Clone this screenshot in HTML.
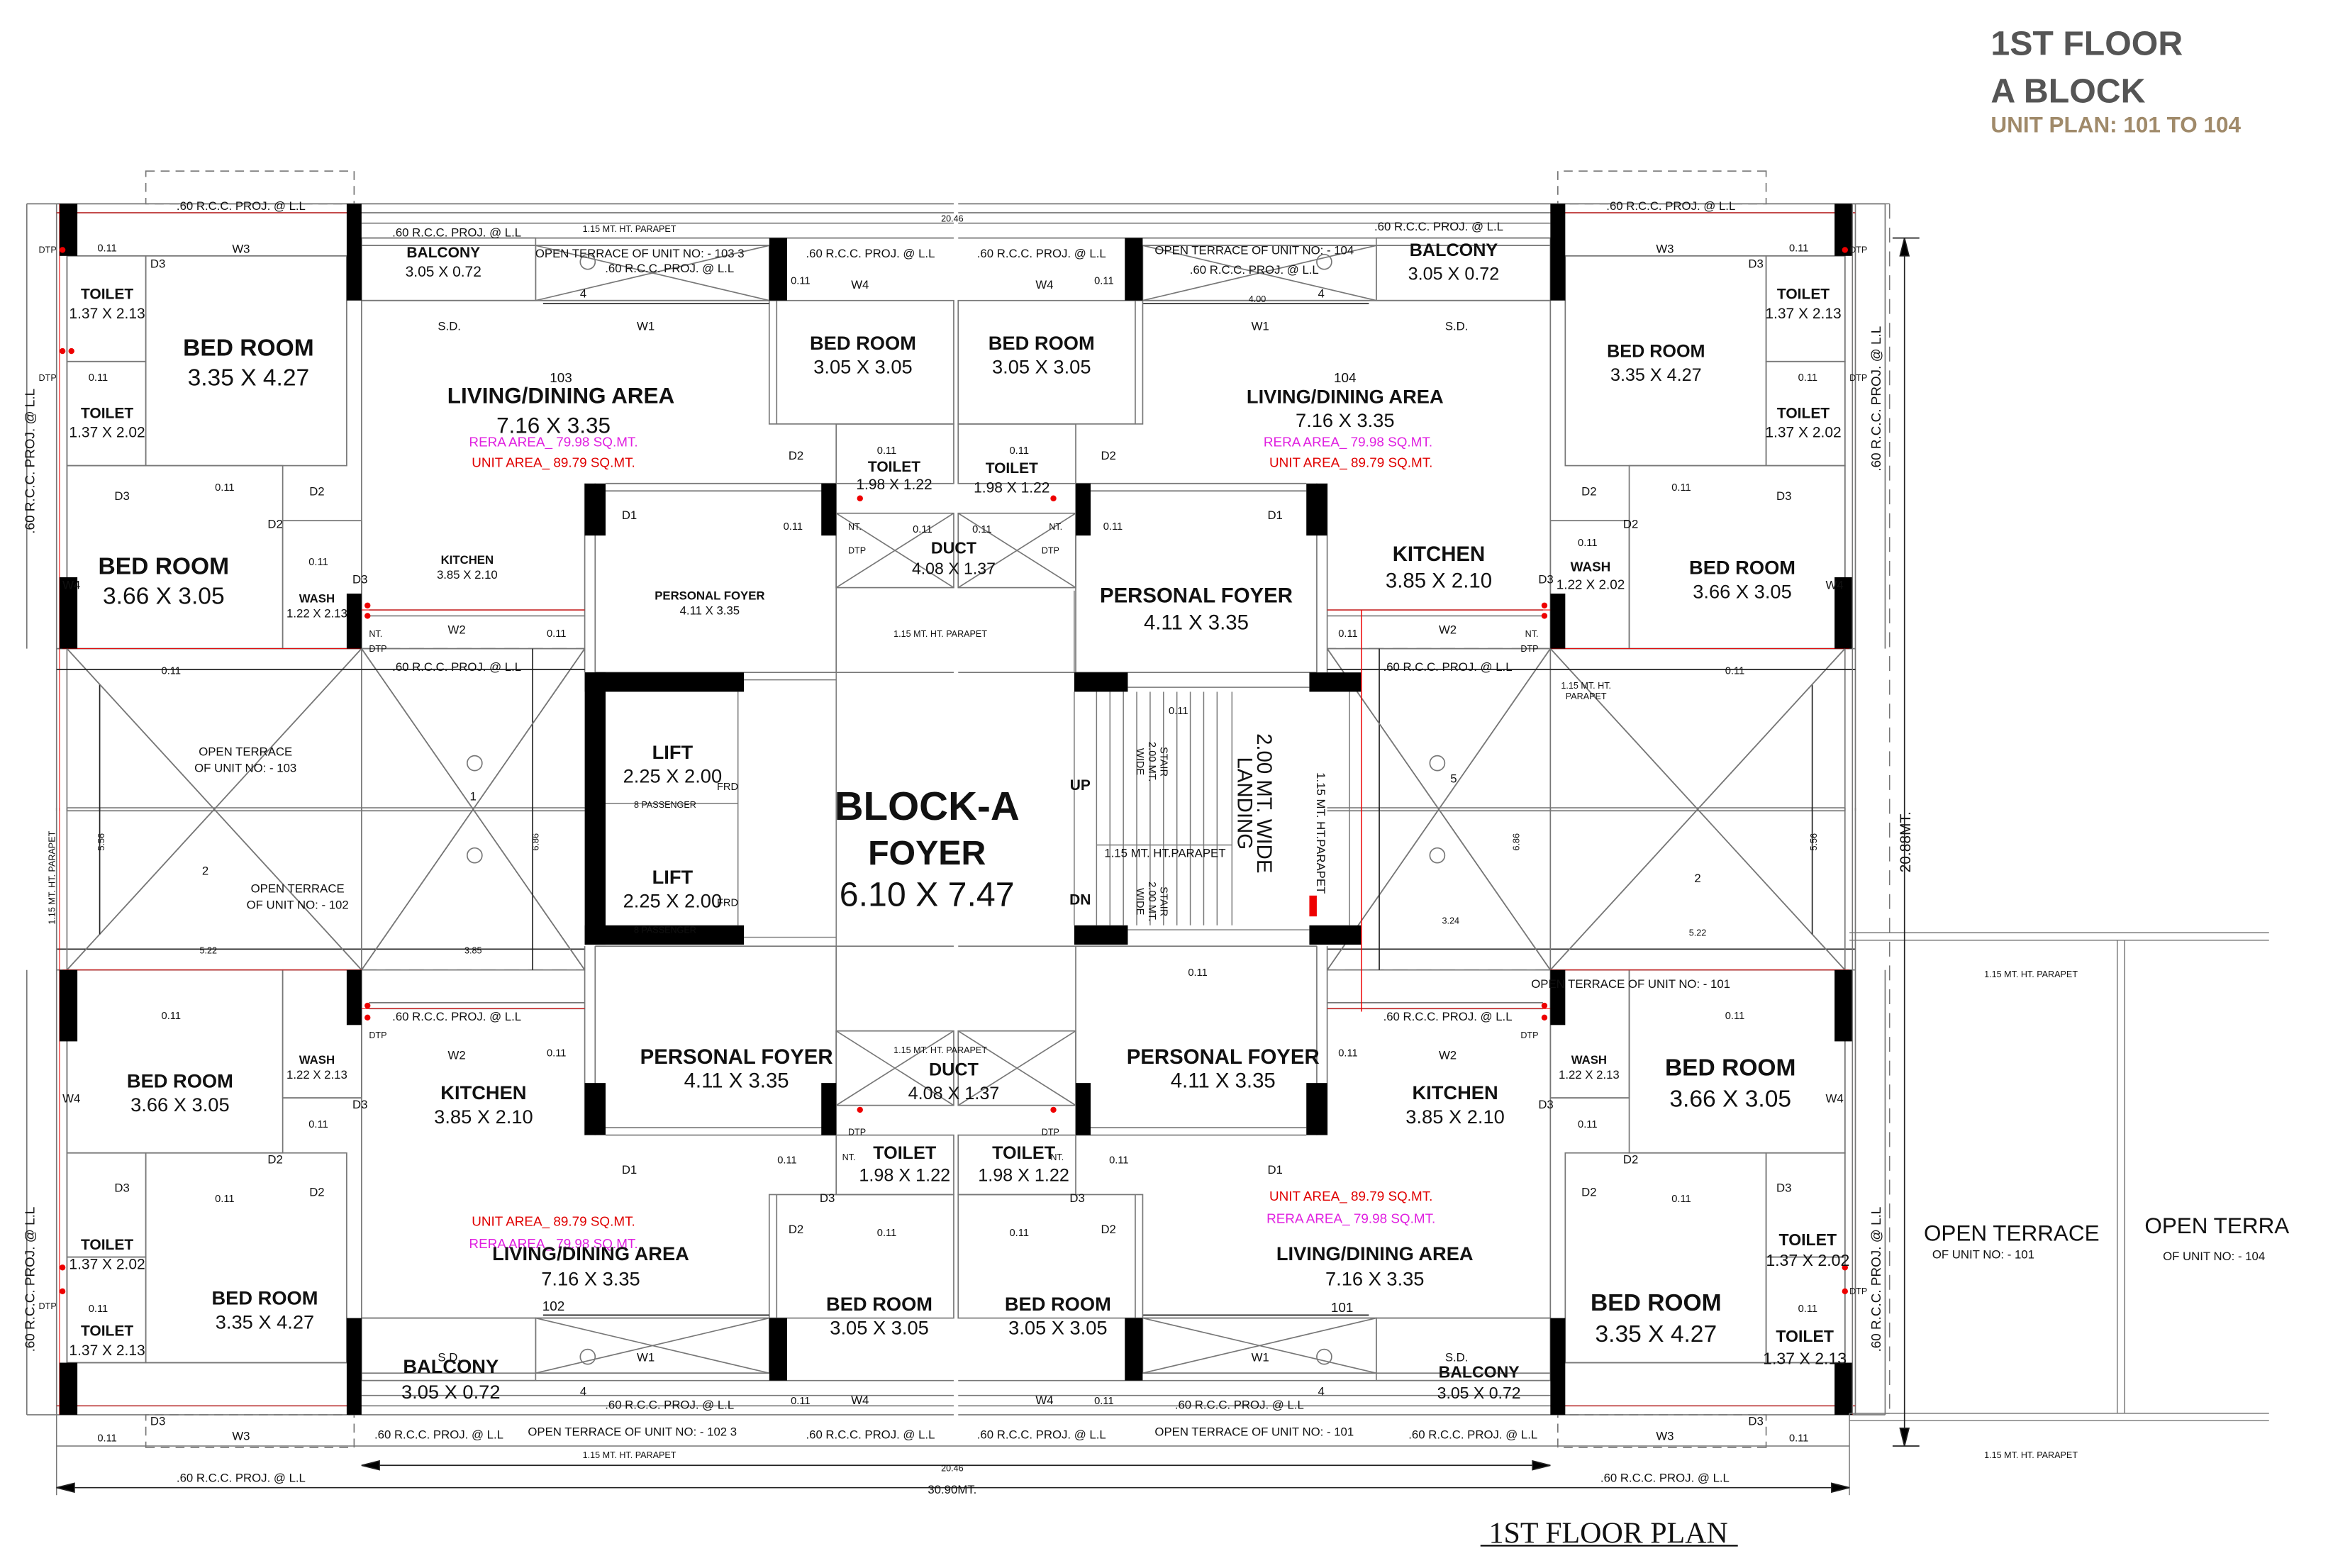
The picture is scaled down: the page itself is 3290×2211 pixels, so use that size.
<!DOCTYPE html>
<html><head><meta charset="utf-8"><style>
html,body{margin:0;padding:0;background:#fff;}
svg{display:block;}
text{font-family:"Liberation Sans Narrow","Liberation Sans",sans-serif;fill:#111;}
.b{font-weight:bold;}
.m{text-anchor:middle;}
.s{font-size:7px;}
.r{fill:#e00000;}
.g{fill:#e020e0;}
</style></head><body>
<svg width="3290" height="2211" viewBox="0 0 1568 1054" preserveAspectRatio="none" xmlns="http://www.w3.org/2000/svg">
<defs>
<g id="q" fill="none" stroke="#777" stroke-width="0.8">
  <rect x="98" y="115" width="140" height="22" stroke-dasharray="6,4"/>
  <line x1="18" y1="137" x2="641" y2="137"/>
  <line x1="38" y1="143" x2="641" y2="143"/>
  <line x1="243" y1="150" x2="641" y2="150"/>
  <line x1="243" y1="160" x2="641" y2="160"/>
  <line x1="243" y1="165" x2="517" y2="165"/>
  <line x1="18" y1="137" x2="18" y2="436"/>
  <line x1="38" y1="137" x2="38" y2="545"/>
  <line x1="45" y1="172" x2="45" y2="545"/>
  <rect x="243" y="160" width="117" height="42"/>
  <rect x="360" y="165" width="157" height="37"/>
  <line x1="360" y1="165" x2="517" y2="202"/><line x1="360" y1="202" x2="517" y2="165"/>
  <line x1="243" y1="202" x2="517" y2="202"/>
  <rect x="45" y="172" width="53" height="71"/>
  <rect x="45" y="243" width="53" height="70"/>
  <rect x="98" y="172" width="135" height="141"/>
  <line x1="45" y1="172" x2="233" y2="172"/>
  <rect x="45" y="313" width="145" height="123"/>
  <rect x="190" y="350" width="53" height="86"/>
  <line x1="190" y1="350" x2="243" y2="350"/>
  <line x1="243" y1="202" x2="243" y2="436"/>
  <line x1="248" y1="410" x2="393" y2="410"/>
  <line x1="248" y1="414" x2="393" y2="414"/>
  <line x1="393" y1="325" x2="393" y2="452"/>
  <line x1="400" y1="325" x2="400" y2="452"/>
  <rect x="517" y="202" width="124" height="83"/>
  <line x1="522" y1="202" x2="522" y2="285"/>
  <rect x="562" y="285" width="79" height="40"/>
  <line x1="407" y1="325" x2="562" y2="325"/>
  <line x1="407" y1="330" x2="562" y2="330"/>
  <rect x="562" y="345" width="79" height="50"/>
  <line x1="562" y1="345" x2="641" y2="395"/><line x1="562" y1="395" x2="641" y2="345"/>
  <line x1="562" y1="325" x2="562" y2="452"/>
  <line x1="38" y1="436" x2="393" y2="436"/>
  <line x1="243" y1="436" x2="393" y2="436" stroke-dasharray="10,6"/>
  <line x1="400" y1="452" x2="641" y2="452"/>
  <line x1="45" y1="436" x2="243" y2="652"/>
  <line x1="243" y1="436" x2="45" y2="652"/>
  <line x1="243" y1="436" x2="393" y2="652"/>
  <line x1="393" y1="436" x2="243" y2="652"/>
  <line x1="243" y1="436" x2="243" y2="545"/>
  <line x1="45" y1="543" x2="393" y2="543"/>
  <circle cx="319" cy="513" r="5"/>
  <circle cx="395" cy="176" r="5"/>
  <line x1="67" y1="460" x2="67" y2="545" stroke="#222"/>
  <line x1="358" y1="436" x2="358" y2="545" stroke="#222"/>
  <line x1="38" y1="638" x2="243" y2="638" stroke="#222"/>
  <line x1="243" y1="638" x2="393" y2="638" stroke="#222"/>
  <line x1="768" y1="204" x2="920" y2="204" stroke="#222"/>
  <line x1="38" y1="143" x2="243" y2="143" stroke="#e00" stroke-width="0.5"/>
  <line x1="243" y1="410" x2="393" y2="410" stroke="#e00" stroke-width="0.5"/>
  <line x1="42" y1="436" x2="243" y2="436" stroke="#e00" stroke-width="0.5"/>
  <line x1="40" y1="137" x2="40" y2="545" stroke="#e00" stroke-width="0.5"/>
</g>
<g id="p" fill="#000">
  <rect x="40" y="137" width="12" height="35"/>
  <rect x="40" y="388" width="12" height="48"/>
  <rect x="233" y="137" width="10" height="65"/>
  <rect x="233" y="399" width="10" height="37"/>
  <rect x="517" y="160" width="12" height="42"/>
  <rect x="393" y="325" width="14" height="35"/>
  <rect x="552" y="325" width="10" height="35"/>
</g>
</defs>
<rect width="1568" height="1054" fill="#fff"/>
<use href="#q"/>
<use href="#q" transform="translate(1285,0) scale(-1,1)"/>
<use href="#q" transform="translate(0,1088) scale(1,-1)"/>
<use href="#q" transform="translate(1285,1088) scale(-1,-1)"/>
<use href="#p"/>
<use href="#p" transform="translate(1285,0) scale(-1,1)"/>
<use href="#p" transform="translate(0,1088) scale(1,-1)"/>
<use href="#p" transform="translate(1285,1088) scale(-1,-1)"/>

<g fill="#000">
  <rect x="393" y="452" width="107" height="13"/>
  <rect x="393" y="452" width="14" height="183"/>
  <rect x="393" y="622" width="107" height="13"/>
  <rect x="722" y="452" width="36" height="13"/>
  <rect x="880" y="452" width="35" height="13"/>
  <rect x="722" y="622" width="36" height="13"/>
  <rect x="880" y="622" width="35" height="13"/>
</g>
<g fill="none" stroke="#777" stroke-width="0.7">
  <line x1="407" y1="540" x2="496" y2="540"/>
  <line x1="496" y1="465" x2="496" y2="622"/>
  <line x1="500" y1="457" x2="562" y2="457"/><line x1="500" y1="630" x2="562" y2="630"/>
  <line x1="758" y1="462" x2="880" y2="462"/><line x1="758" y1="625" x2="880" y2="625"/>
  <line x1="737" y1="465" x2="737" y2="622"/><line x1="746" y1="465" x2="746" y2="622"/>
  <line x1="755" y1="465" x2="755" y2="622"/><line x1="764" y1="465" x2="764" y2="622"/>
  <line x1="773" y1="465" x2="773" y2="622"/><line x1="782" y1="465" x2="782" y2="622"/>
  <line x1="791" y1="465" x2="791" y2="622"/><line x1="800" y1="465" x2="800" y2="622"/>
  <line x1="809" y1="465" x2="809" y2="622"/><line x1="818" y1="465" x2="818" y2="622"/>
  <line x1="828" y1="465" x2="828" y2="622"/>
  <line x1="737" y1="568" x2="828" y2="568"/>
  <line x1="907" y1="465" x2="907" y2="622"/>
  <line x1="915" y1="410" x2="915" y2="680" stroke="#e00"/>
  <line x1="562" y1="452" x2="562" y2="690"/><line x1="722" y1="465" x2="722" y2="622"/>
  <line x1="722" y1="397" x2="722" y2="452"/>
  <line x1="1243" y1="627" x2="1525" y2="627"/><line x1="1243" y1="632" x2="1525" y2="632"/>
  <line x1="1243" y1="950" x2="1525" y2="950"/><line x1="1243" y1="955" x2="1525" y2="955"/>
  <line x1="1423" y1="632" x2="1423" y2="950"/><line x1="1428" y1="632" x2="1428" y2="950"/>
  <line x1="1245" y1="137" x2="1245" y2="950"/>
  <line x1="1270" y1="137" x2="1270" y2="950" stroke-dasharray="10,6"/>
  <line x1="1245" y1="137" x2="1270" y2="137"/><line x1="1245" y1="950" x2="1270" y2="950"/>
  <line x1="38" y1="972" x2="1243" y2="972"/>
  <line x1="38" y1="950" x2="38" y2="1005"/><line x1="1243" y1="950" x2="1243" y2="1005"/>
</g>
<g stroke="#222" stroke-width="0.8" fill="#000">
  <line x1="38" y1="1000" x2="1243" y2="1000"/>
  <polygon points="38,1000 50,997 50,1003"/><polygon points="1243,1000 1231,997 1231,1003"/>
  <line x1="243" y1="985" x2="1042" y2="985"/>
  <polygon points="243,985 255,982 255,988"/><polygon points="1042,985 1030,982 1030,988"/>
  <line x1="1280" y1="160" x2="1280" y2="972"/>
  <polygon points="1280,160 1277,172 1283,172"/><polygon points="1280,972 1277,960 1283,960"/>
  <line x1="1272" y1="160" x2="1290" y2="160"/><line x1="1272" y1="972" x2="1290" y2="972"/>
</g>

<text x="1338" y="37" style="font-family:'Liberation Sans',sans-serif;font-size:23px;font-weight:bold;fill:#555">1ST FLOOR</text>
<text x="1338" y="69" style="font-family:'Liberation Sans',sans-serif;font-size:23px;font-weight:bold;fill:#555">A BLOCK</text>
<text x="1338" y="89" style="font-family:'Liberation Sans',sans-serif;font-size:15px;font-weight:bold;fill:#a08a6a">UNIT PLAN: 101 TO 104</text>
<text x="1081" y="1037" class="m" style="font-family:'Liberation Serif',serif;font-size:20px;">1ST FLOOR PLAN</text>
<line x1="995" y1="1039" x2="1168" y2="1039" stroke="#000" stroke-width="1"/>

<g font-size="8">
<text x="162" y="141" class="m">.60 R.C.C. PROJ. @ L.L</text>
<text x="307" y="159" class="m">.60 R.C.C. PROJ. @ L.L</text>
<text x="423" y="156" class="m" font-size="6">1.15 MT. HT. PARAPET</text>
<text x="640" y="149" class="m" font-size="6">20.46</text>
<text x="585" y="173" class="m">.60 R.C.C. PROJ. @ L.L</text>
<text x="700" y="173" class="m">.60 R.C.C. PROJ. @ L.L</text>
<text x="430" y="173" class="m">OPEN TERRACE OF UNIT NO: - 103   3</text>
<text x="450" y="183" class="m">.60 R.C.C. PROJ. @ L.L</text>
<text x="843" y="171" class="m">OPEN TERRACE OF UNIT NO: - 104</text>
<text x="843" y="184" class="m">.60 R.C.C. PROJ. @ L.L</text>
<text x="967" y="155" class="m">.60 R.C.C. PROJ. @ L.L</text>
<text x="1123" y="141" class="m">.60 R.C.C. PROJ. @ L.L</text>
<text x="392" y="200" class="m">4</text><text x="888" y="200" class="m">4</text>
<text x="845" y="203" class="m" font-size="6">4.00</text>
<text x="162" y="170" class="m">W3</text><text x="1119" y="170" class="m">W3</text>
<text x="578" y="194" class="m">W4</text><text x="702" y="194" class="m">W4</text>
<text x="302" y="222" class="m">S.D.</text><text x="434" y="222" class="m">W1</text>
<text x="847" y="222" class="m">W1</text><text x="979" y="222" class="m">S.D.</text>
<text x="101" y="180">D3</text><text x="1175" y="180">D3</text>
<text x="535" y="309" class="m">D2</text><text x="745" y="309" class="m">D2</text>
<text x="82" y="336" class="m">D3</text><text x="213" y="333" class="m">D2</text>
<text x="185" y="355" class="m">D2</text><text x="242" y="392" class="m">D3</text>
<text x="423" y="349" class="m">D1</text><text x="857" y="349" class="m">D1</text>
<text x="1068" y="333" class="m">D2</text><text x="1199" y="336" class="m">D3</text>
<text x="1096" y="355" class="m">D2</text><text x="1039" y="392" class="m">D3</text>
<text x="307" y="426" class="m">W2</text><text x="973" y="426" class="m">W2</text>
<text x="48" y="396" class="m">W4</text><text x="1233" y="396" class="m">W4</text>
<text x="307" y="712" class="m">W2</text><text x="973" y="712" class="m">W2</text>
<text x="48" y="741" class="m">W4</text><text x="1233" y="741" class="m">W4</text>
<text x="423" y="789" class="m">D1</text><text x="857" y="789" class="m">D1</text>
<text x="185" y="782" class="m">D2</text><text x="242" y="745" class="m">D3</text>
<text x="82" y="801" class="m">D3</text><text x="213" y="804" class="m">D2</text>
<text x="1096" y="782" class="m">D2</text><text x="1039" y="745" class="m">D3</text>
<text x="1068" y="804" class="m">D2</text><text x="1199" y="801" class="m">D3</text>
<text x="556" y="808" class="m">D3</text><text x="724" y="808" class="m">D3</text>
<text x="535" y="829" class="m">D2</text><text x="745" y="829" class="m">D2</text>
<text x="101" y="958">D3</text><text x="1175" y="958">D3</text>
<text x="162" y="968" class="m">W3</text><text x="1119" y="968" class="m">W3</text>
<text x="578" y="944" class="m">W4</text><text x="702" y="944" class="m">W4</text>
<text x="434" y="915" class="m">W1</text><text x="847" y="915" class="m">W1</text>
<text x="302" y="915" class="m">S.D.</text><text x="979" y="915" class="m">S.D.</text>
<text x="450" y="947" class="m">.60 R.C.C. PROJ. @ L.L</text>
<text x="833" y="947" class="m">.60 R.C.C. PROJ. @ L.L</text>
<text x="425" y="965" class="m">OPEN TERRACE OF UNIT NO: - 102   3</text>
<text x="843" y="965" class="m">OPEN TERRACE OF UNIT NO: - 101</text>
<text x="295" y="967" class="m">.60 R.C.C. PROJ. @ L.L</text>
<text x="585" y="967" class="m">.60 R.C.C. PROJ. @ L.L</text>
<text x="700" y="967" class="m">.60 R.C.C. PROJ. @ L.L</text>
<text x="990" y="967" class="m">.60 R.C.C. PROJ. @ L.L</text>
<text x="392" y="938" class="m">4</text><text x="888" y="938" class="m">4</text>
<text x="162" y="996" class="m">.60 R.C.C. PROJ. @ L.L</text>
<text x="1119" y="996" class="m">.60 R.C.C. PROJ. @ L.L</text>
<text x="640" y="1004" class="m">30.90MT.</text>
<text x="640" y="989" class="m" font-size="6">20.46</text>
<text x="423" y="980" class="m" font-size="6">1.15 MT. HT. PARAPET</text>
<text x="307" y="451" class="m">.60 R.C.C. PROJ. @ L.L</text>
<text x="973" y="451" class="m">.60 R.C.C. PROJ. @ L.L</text>
<text x="307" y="686" class="m">.60 R.C.C. PROJ. @ L.L</text>
<text x="973" y="686" class="m">.60 R.C.C. PROJ. @ L.L</text>
<text x="1096" y="664" class="m">OPEN TERRACE OF UNIT NO: - 101</text>
<text x="632" y="428" class="m" font-size="6">1.15 MT. HT. PARAPET</text>
<text x="632" y="708" class="m" font-size="6">1.15 MT. HT. PARAPET</text>
<text x="1365" y="657" class="m" font-size="6">1.15 MT. HT. PARAPET</text>
<text x="1365" y="980" class="m" font-size="6">1.15 MT. HT. PARAPET</text>
<text x="1066" y="463" class="m" font-size="6">1.15 MT. HT.</text>
<text x="1066" y="470" class="m" font-size="6">PARAPET</text>
<text x="140" y="641" class="m" font-size="6">5.22</text>
<text x="318" y="641" class="m" font-size="6">3.85</text>
<text x="975" y="621" class="m" font-size="6">3.24</text>
<text x="1141" y="629" class="m" font-size="6">5.22</text>
<text x="138" y="588" class="m">2</text><text x="318" y="538" class="m">1</text>
<text x="977" y="526" class="m">5</text><text x="1141" y="593" class="m">2</text>
</g>
<g font-size="6" class="s">
<text x="72" y="169" class="m">0.11</text><text x="1209" y="169" class="m">0.11</text>
<text x="66" y="256" class="m">0.11</text><text x="1215" y="256" class="m">0.11</text>
<text x="151" y="330" class="m">0.11</text><text x="1130" y="330" class="m">0.11</text>
<text x="214" y="380" class="m">0.11</text><text x="1067" y="367" class="m">0.11</text>
<text x="115" y="453" class="m">0.11</text><text x="1166" y="453" class="m">0.11</text>
<text x="115" y="685" class="m">0.11</text><text x="1166" y="685" class="m">0.11</text>
<text x="214" y="758" class="m">0.11</text><text x="1067" y="758" class="m">0.11</text>
<text x="151" y="808" class="m">0.11</text><text x="1130" y="808" class="m">0.11</text>
<text x="66" y="882" class="m">0.11</text><text x="1215" y="882" class="m">0.11</text>
<text x="72" y="969" class="m">0.11</text><text x="1209" y="969" class="m">0.11</text>
<text x="533" y="356" class="m">0.11</text><text x="748" y="356" class="m">0.11</text>
<text x="620" y="358" class="m">0.11</text><text x="660" y="358" class="m">0.11</text>
<text x="596" y="305" class="m">0.11</text><text x="685" y="305" class="m">0.11</text>
<text x="374" y="428" class="m">0.11</text><text x="906" y="428" class="m">0.11</text>
<text x="792" y="480" class="m">0.11</text><text x="805" y="656" class="m">0.11</text>
<text x="374" y="710" class="m">0.11</text><text x="906" y="710" class="m">0.11</text>
<text x="529" y="782" class="m">0.11</text><text x="752" y="782" class="m">0.11</text>
<text x="596" y="831" class="m">0.11</text><text x="685" y="831" class="m">0.11</text>
<text x="538" y="191" class="m">0.11</text><text x="742" y="191" class="m">0.11</text>
<text x="538" y="944" class="m">0.11</text><text x="742" y="944" class="m">0.11</text>
</g>
<g font-size="6" class="r">
<text x="26" y="170">DTP</text><text x="1243" y="170">DTP</text>
<text x="26" y="256">DTP</text><text x="1243" y="256">DTP</text>
<text x="570" y="356">NT.</text><text x="705" y="356">NT.</text>
<text x="570" y="372">DTP</text><text x="700" y="372">DTP</text>
<text x="248" y="428">NT.</text><text x="1025" y="428">NT.</text>
<text x="248" y="438">DTP</text><text x="1022" y="438">DTP</text>
<text x="248" y="698">DTP</text><text x="1022" y="698">DTP</text>
<text x="570" y="763">DTP</text><text x="700" y="763">DTP</text>
<text x="566" y="780">NT.</text><text x="706" y="780">NT.</text>
<text x="26" y="880">DTP</text><text x="1243" y="870">DTP</text>
</g>
<g fill="#e00">
<circle cx="42" cy="168" r="2"/><circle cx="1240" cy="168" r="2"/>
<circle cx="42" cy="236" r="2"/><circle cx="48" cy="236" r="2"/>
<circle cx="247" cy="407" r="2"/><circle cx="247" cy="414" r="2"/>
<circle cx="1038" cy="407" r="2"/><circle cx="1038" cy="414" r="2"/>
<circle cx="247" cy="676" r="2"/><circle cx="247" cy="684" r="2"/>
<circle cx="1038" cy="676" r="2"/><circle cx="1038" cy="684" r="2"/>
<circle cx="42" cy="852" r="2"/><circle cx="42" cy="868" r="2"/>
<circle cx="1240" cy="852" r="2"/><circle cx="1240" cy="868" r="2"/>
<circle cx="578" cy="335" r="2"/><circle cx="708" cy="335" r="2"/>
<circle cx="578" cy="746" r="2"/><circle cx="708" cy="746" r="2"/>
<rect x="880" y="602" width="5" height="14"/>
</g>

<g class="m">
<text x="72" y="201" class="b" font-size="10">TOILET</text><text x="72" y="214" font-size="10">1.37 X 2.13</text>
<text x="72" y="281" class="b" font-size="10">TOILET</text><text x="72" y="294" font-size="10">1.37 X 2.02</text>
<text x="167" y="239" class="b" font-size="16">BED ROOM</text><text x="167" y="259" font-size="16">3.35 X 4.27</text>
<text x="110" y="386" class="b" font-size="16">BED ROOM</text><text x="110" y="406" font-size="16">3.66 X 3.05</text>
<text x="298" y="173" class="b" font-size="10">BALCONY</text><text x="298" y="186" font-size="10">3.05 X 0.72</text>
<text x="377" y="257" font-size="9">103</text>
<text x="377" y="271" class="b" font-size="15">LIVING/DINING AREA</text><text x="372" y="291" font-size="15">7.16 X 3.35</text>
<text x="372" y="300" class="g" font-size="9">RERA AREA_ 79.98 SQ.MT.</text>
<text x="372" y="314" class="r" font-size="9">UNIT AREA_ 89.79 SQ.MT.</text>
<text x="580" y="235" class="b" font-size="13">BED ROOM</text><text x="580" y="251" font-size="13">3.05 X 3.05</text>
<text x="700" y="235" class="b" font-size="13">BED ROOM</text><text x="700" y="251" font-size="13">3.05 X 3.05</text>
<text x="601" y="317" class="b" font-size="10">TOILET</text><text x="601" y="329" font-size="10">1.98 X 1.22</text>
<text x="680" y="318" class="b" font-size="10">TOILET</text><text x="680" y="331" font-size="10">1.98 X 1.22</text>
<text x="641" y="372" class="b" font-size="11">DUCT</text><text x="641" y="386" font-size="11">4.08 X 1.37</text>
<text x="314" y="379" class="b" font-size="8">KITCHEN</text><text x="314" y="389" font-size="8">3.85 X 2.10</text>
<text x="213" y="405" class="b" font-size="8">WASH</text><text x="213" y="415" font-size="8">1.22 X 2.13</text>
<text x="477" y="403" class="b" font-size="8">PERSONAL FOYER</text><text x="477" y="413" font-size="8">4.11 X 3.35</text>
<text x="165" y="508" font-size="8">OPEN TERRACE</text><text x="165" y="519" font-size="8">OF UNIT NO: - 103</text>
<text x="200" y="600" font-size="8">OPEN TERRACE</text><text x="200" y="611" font-size="8">OF UNIT NO: - 102</text>
<text x="904" y="257" font-size="9">104</text>
<text x="904" y="271" class="b" font-size="13">LIVING/DINING AREA</text><text x="904" y="287" font-size="13">7.16 X 3.35</text>
<text x="906" y="300" class="g" font-size="9">RERA AREA_ 79.98 SQ.MT.</text>
<text x="908" y="314" class="r" font-size="9">UNIT AREA_ 89.79 SQ.MT.</text>
<text x="967" y="377" class="b" font-size="14">KITCHEN</text><text x="967" y="395" font-size="14">3.85 X 2.10</text>
<text x="804" y="405" class="b" font-size="14">PERSONAL FOYER</text><text x="804" y="423" font-size="14">4.11 X 3.35</text>
<text x="1113" y="240" class="b" font-size="12">BED ROOM</text><text x="1113" y="256" font-size="12">3.35 X 4.27</text>
<text x="1212" y="201" class="b" font-size="10">TOILET</text><text x="1212" y="214" font-size="10">1.37 X 2.13</text>
<text x="1212" y="281" class="b" font-size="10">TOILET</text><text x="1212" y="294" font-size="10">1.37 X 2.02</text>
<text x="1171" y="386" class="b" font-size="13">BED ROOM</text><text x="1171" y="402" font-size="13">3.66 X 3.05</text>
<text x="1069" y="384" class="b" font-size="9">WASH</text><text x="1069" y="396" font-size="9">1.22 X 2.02</text>
<text x="977" y="172" class="b" font-size="12">BALCONY</text><text x="977" y="188" font-size="12">3.05 X 0.72</text>

<text x="452" y="510" class="b" font-size="13">LIFT</text><text x="452" y="526" font-size="13">2.25 X 2.00</text>
<text x="447" y="543" font-size="6">8 PASSENGER</text>
<text x="452" y="594" class="b" font-size="13">LIFT</text><text x="452" y="610" font-size="13">2.25 X 2.00</text>
<text x="447" y="627" font-size="6">8 PASSENGER</text>
<text x="489" y="531" font-size="7">FRD</text><text x="489" y="609" font-size="7">FRD</text>
<text x="623" y="551" class="b" font-size="27">BLOCK-A</text>
<text x="623" y="581" class="b" font-size="23">FOYER</text>
<text x="623" y="609" font-size="23">6.10 X 7.47</text>
<text x="726" y="531" class="b" font-size="10">UP</text>
<text x="726" y="608" class="b" font-size="10">DN</text>
<text x="783" y="576" font-size="8">1.15 MT. HT.PARAPET</text>

<text x="495" y="715" class="b" font-size="14">PERSONAL FOYER</text><text x="495" y="731" font-size="14">4.11 X 3.35</text>
<text x="641" y="723" class="b" font-size="12">DUCT</text><text x="641" y="739" font-size="12">4.08 X 1.37</text>
<text x="822" y="715" class="b" font-size="14">PERSONAL FOYER</text><text x="822" y="731" font-size="14">4.11 X 3.35</text>
<text x="608" y="779" class="b" font-size="12">TOILET</text><text x="608" y="794" font-size="12">1.98 X 1.22</text>
<text x="688" y="779" class="b" font-size="12">TOILET</text><text x="688" y="794" font-size="12">1.98 X 1.22</text>
<text x="121" y="731" class="b" font-size="13">BED ROOM</text><text x="121" y="747" font-size="13">3.66 X 3.05</text>
<text x="325" y="739" class="b" font-size="13">KITCHEN</text><text x="325" y="755" font-size="13">3.85 X 2.10</text>
<text x="213" y="715" class="b" font-size="8">WASH</text><text x="213" y="725" font-size="8">1.22 X 2.13</text>
<text x="178" y="877" class="b" font-size="13">BED ROOM</text><text x="178" y="893" font-size="13">3.35 X 4.27</text>
<text x="72" y="840" class="b" font-size="10">TOILET</text><text x="72" y="853" font-size="10">1.37 X 2.02</text>
<text x="72" y="898" class="b" font-size="10">TOILET</text><text x="72" y="911" font-size="10">1.37 X 2.13</text>
<text x="372" y="824" class="r" font-size="9">UNIT AREA_ 89.79 SQ.MT.</text>
<text x="372" y="839" class="g" font-size="9">RERA AREA_ 79.98 SQ.MT.</text>
<text x="397" y="847" class="b" font-size="13">LIVING/DINING AREA</text><text x="397" y="864" font-size="13">7.16 X 3.35</text>
<text x="372" y="881" font-size="9">102</text>
<text x="303" y="923" class="b" font-size="13">BALCONY</text><text x="303" y="940" font-size="13">3.05 X 0.72</text>
<text x="591" y="881" class="b" font-size="13">BED ROOM</text><text x="591" y="897" font-size="13">3.05 X 3.05</text>
<text x="711" y="881" class="b" font-size="13">BED ROOM</text><text x="711" y="897" font-size="13">3.05 X 3.05</text>
<text x="908" y="807" class="r" font-size="9">UNIT AREA_ 89.79 SQ.MT.</text>
<text x="908" y="822" class="g" font-size="9">RERA AREA_ 79.98 SQ.MT.</text>
<text x="924" y="847" class="b" font-size="13">LIVING/DINING AREA</text><text x="924" y="864" font-size="13">7.16 X 3.35</text>
<text x="902" y="882" font-size="9">101</text>
<text x="978" y="739" class="b" font-size="13">KITCHEN</text><text x="978" y="755" font-size="13">3.85 X 2.10</text>
<text x="1068" y="715" class="b" font-size="8">WASH</text><text x="1068" y="725" font-size="8">1.22 X 2.13</text>
<text x="1163" y="723" class="b" font-size="16">BED ROOM</text><text x="1163" y="744" font-size="16">3.66 X 3.05</text>
<text x="1113" y="881" class="b" font-size="16">BED ROOM</text><text x="1113" y="902" font-size="16">3.35 X 4.27</text>
<text x="1215" y="837" class="b" font-size="11">TOILET</text><text x="1215" y="851" font-size="11">1.37 X 2.02</text>
<text x="1213" y="902" class="b" font-size="11">TOILET</text><text x="1213" y="917" font-size="11">1.37 X 2.13</text>
<text x="994" y="926" class="b" font-size="11">BALCONY</text><text x="994" y="940" font-size="11">3.05 X 0.72</text>
<text x="1352" y="834" font-size="15">OPEN TERRACE</text><text x="1333" y="846" font-size="8">OF UNIT NO: - 101</text>
<text x="1490" y="829" font-size="15">OPEN TERRA</text><text x="1488" y="847" font-size="8">OF UNIT NO: - 104</text>
</g>
<g font-size="8">
<text transform="translate(23,310) rotate(-90)" class="m" font-size="9">.60 R.C.C. PROJ. @ L.L</text>
<text transform="translate(23,860) rotate(-90)" class="m" font-size="9">.60 R.C.C. PROJ. @ L.L</text>
<text transform="translate(1264,268) rotate(-90)" class="m" font-size="9">.60 R.C.C. PROJ. @ L.L</text>
<text transform="translate(1264,860) rotate(-90)" class="m" font-size="9">.60 R.C.C. PROJ. @ L.L</text>
<text transform="translate(37,590) rotate(-90)" class="m" font-size="6">1.15 MT. HT. PARAPET</text>
<text transform="translate(1284,566) rotate(-90)" class="m" font-size="10">20.88MT.</text>
<text transform="translate(70,566) rotate(-90)" class="m" font-size="6">5.56</text>
<text transform="translate(362,566) rotate(-90)" class="m" font-size="6">6.86</text>
<text transform="translate(1021,566) rotate(-90)" class="m" font-size="6">6.86</text>
<text transform="translate(1221,566) rotate(-90)" class="m" font-size="6">5.56</text>
<text transform="translate(845,540) rotate(90)" class="m" font-family="Liberation Sans" font-size="14">2.00 MT. WIDE</text>
<text transform="translate(832,540) rotate(90)" class="m" font-family="Liberation Sans" font-size="14">LANDING</text>
<text transform="translate(885,560) rotate(90)" class="m" font-family="Liberation Sans" font-size="8">1.15 MT. HT.PARAPET</text>
<text transform="translate(780,512) rotate(90)" class="m" font-family="Liberation Sans" font-size="7">STAIR</text>
<text transform="translate(772,512) rotate(90)" class="m" font-family="Liberation Sans" font-size="7">2.00 MT.</text>
<text transform="translate(764,512) rotate(90)" class="m" font-family="Liberation Sans" font-size="7">WIDE</text>
<text transform="translate(780,606) rotate(90)" class="m" font-family="Liberation Sans" font-size="7">STAIR</text>
<text transform="translate(772,606) rotate(90)" class="m" font-family="Liberation Sans" font-size="7">2.00 MT.</text>
<text transform="translate(764,606) rotate(90)" class="m" font-family="Liberation Sans" font-size="7">WIDE</text>
</g>
</svg>
</body></html>
